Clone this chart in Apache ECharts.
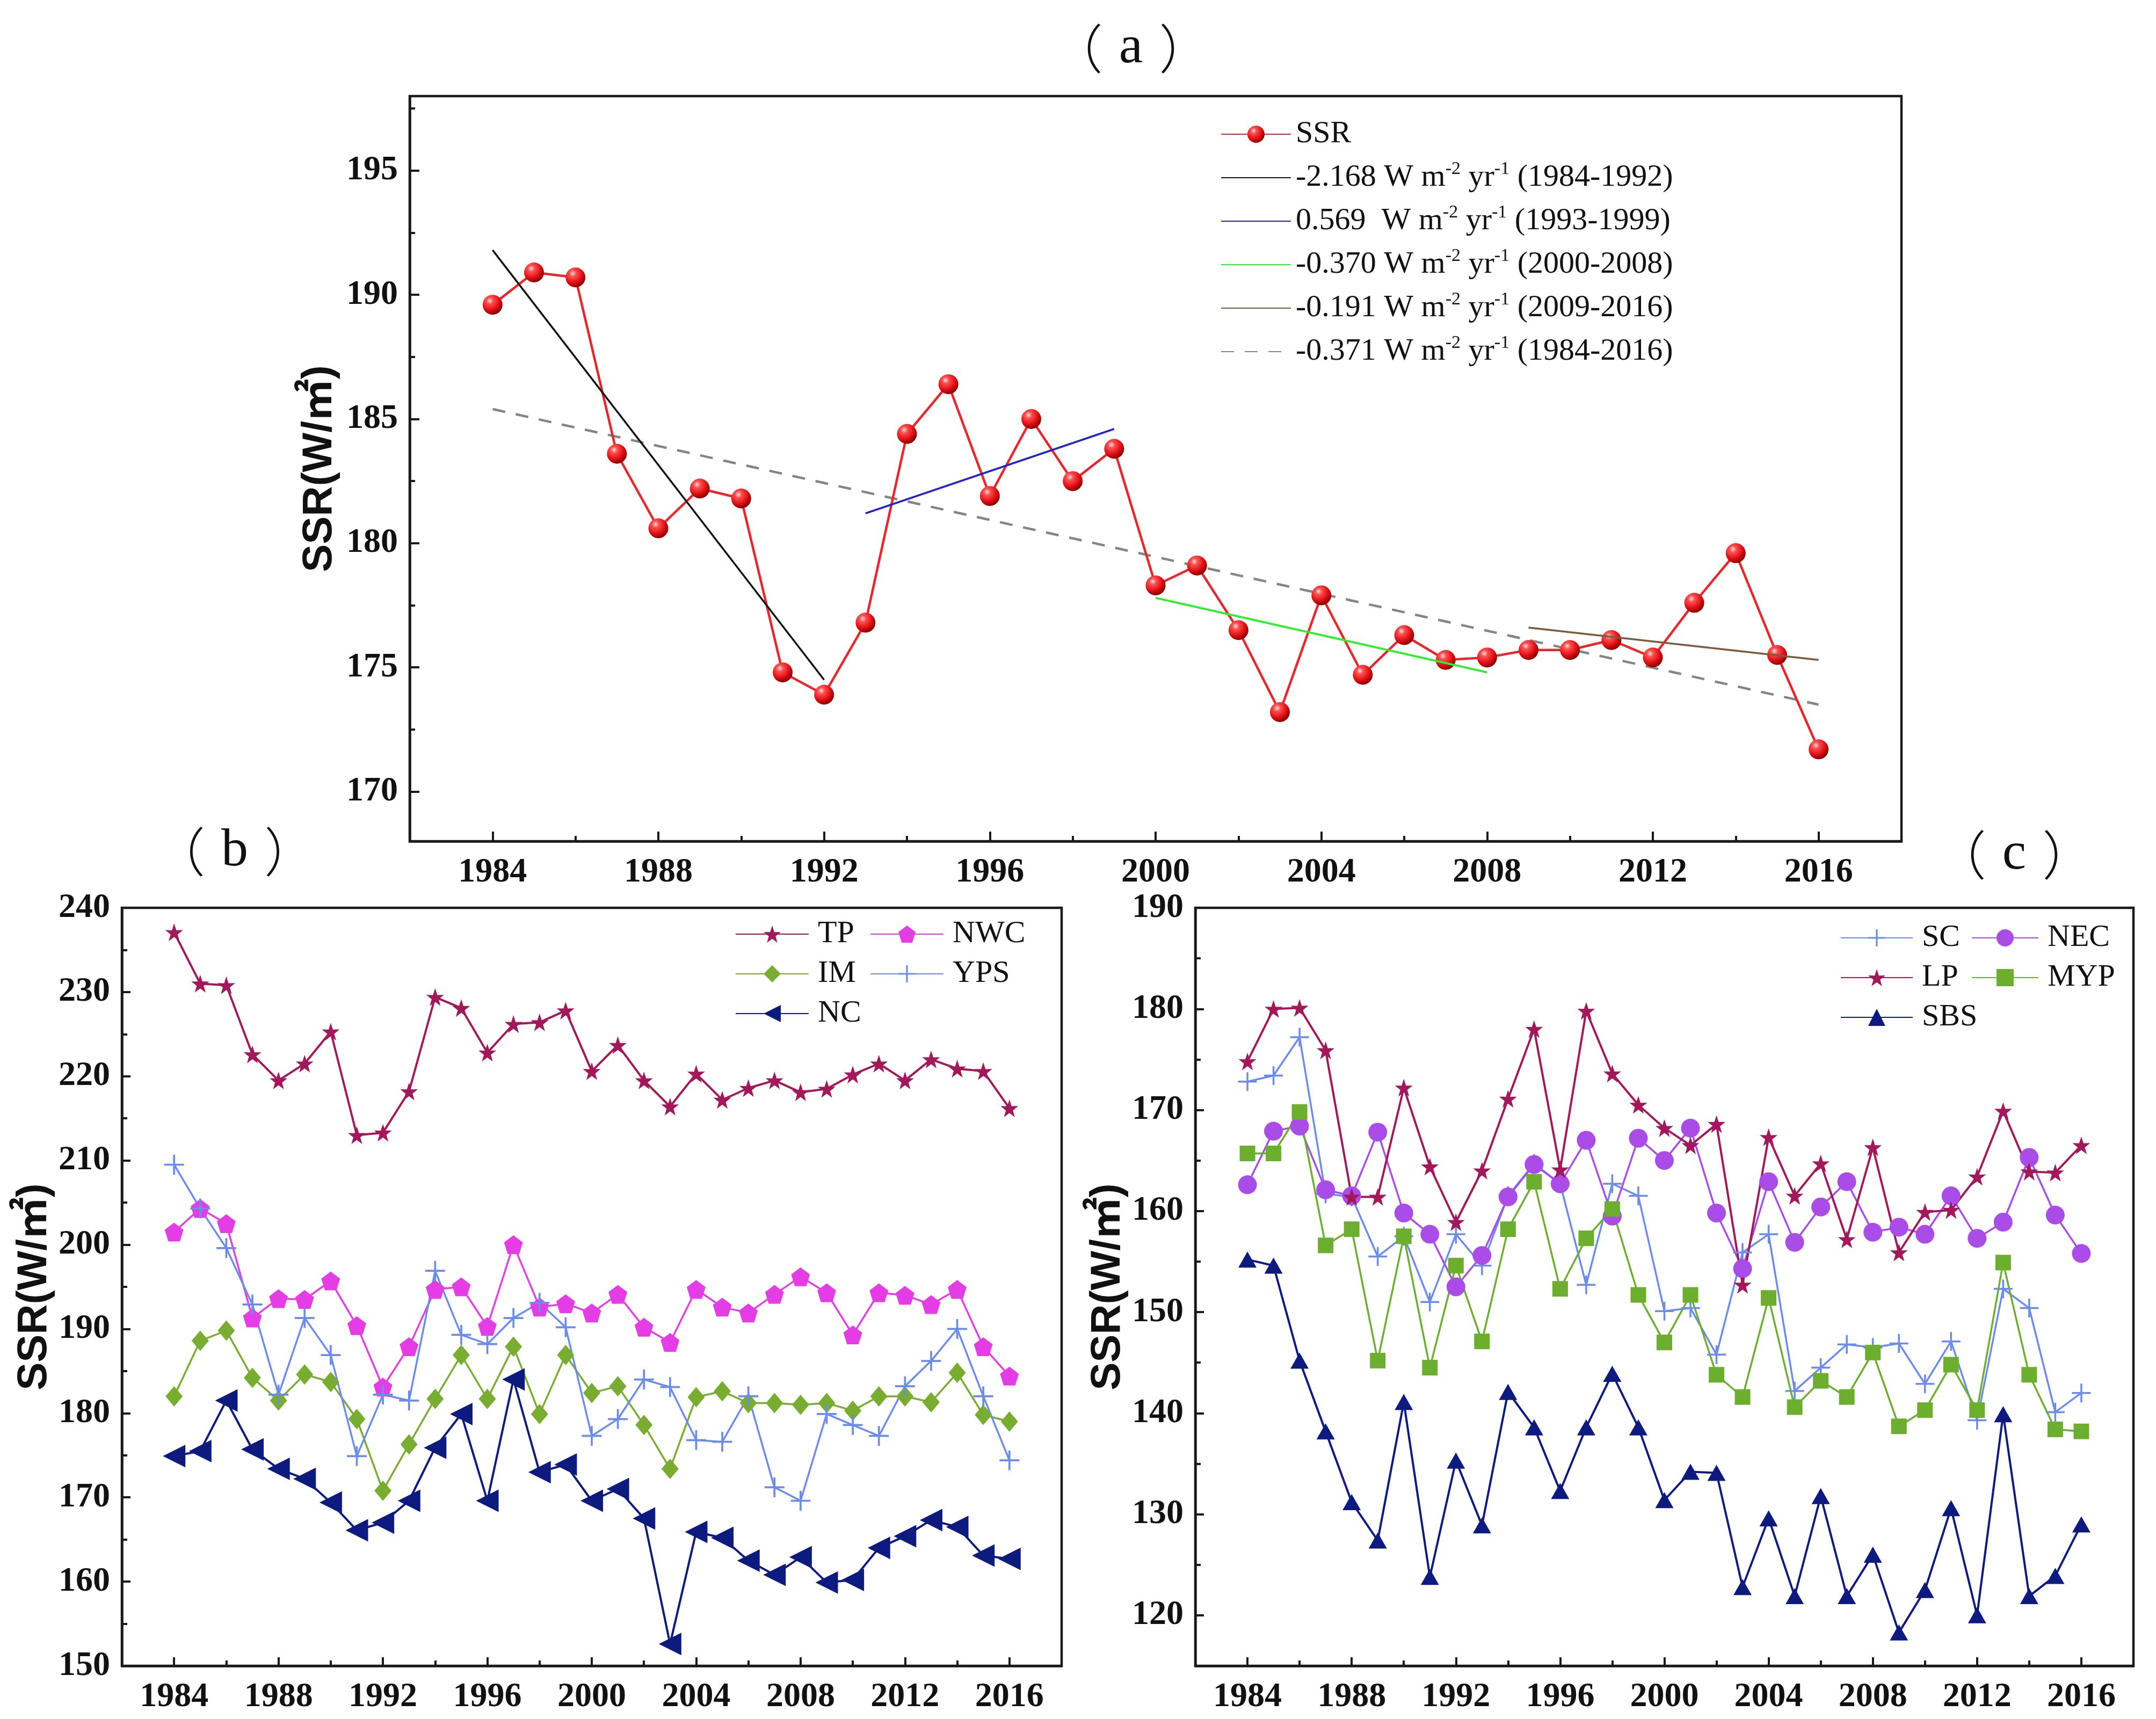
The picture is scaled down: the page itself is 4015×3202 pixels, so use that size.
<!DOCTYPE html>
<html><head><meta charset="utf-8">
<script src="https://cdn.jsdelivr.net/npm/echarts@6/dist/echarts.min.js"></script>
<style>html,body{margin:0;padding:0;background:#fff;}#chart{width:4015px;height:3202px;}</style>
</head><body><div id="chart"></div>
<script>
// ---------- DATA ----------
const years = [1984,1985,1986,1987,1988,1989,1990,1991,1992,1993,1994,1995,1996,1997,1998,1999,2000,2001,2002,2003,2004,2005,2006,2007,2008,2009,2010,2011,2012,2013,2014,2015,2016];

// panel (a)
const ssr = [189.6,190.9,190.7,183.6,180.6,182.2,181.8,174.8,173.9,176.8,184.4,186.4,181.9,185.0,182.5,183.8,178.3,179.1,176.5,173.2,177.9,174.7,176.3,175.3,175.4,175.7,175.7,176.1,175.4,177.6,179.6,175.5,171.7];
const trend8492 = [[1984,191.8],[1992,174.5]];
const trend9399 = [[1993,181.2],[1999,184.6]];
const trend0008 = [[2000,177.8],[2008,174.8]];
const trend0916 = [[2009,176.6],[2016,175.3]];
const trend8416 = [[1984,185.4],[2016,173.5]];
const trendNames = ['-2.168 W m-2 yr-1 (1984-1992)','0.569  W m-2 yr-1 (1993-1999)','-0.370 W m-2 yr-1 (2000-2008)','-0.191 W m-2 yr-1 (2009-2016)','-0.371 W m-2 yr-1 (1984-2016)'];

// panel (b)
const tp  = [237.1,231.0,230.8,222.6,219.5,221.5,225.3,213.0,213.3,218.2,229.4,228.1,222.8,226.2,226.4,227.8,220.6,223.7,219.5,216.4,220.3,217.2,218.6,219.5,218.1,218.5,220.2,221.5,219.5,222.0,220.9,220.6,216.2];
const nwc = [201.5,204.3,202.5,191.3,193.6,193.5,195.7,190.4,183.1,187.9,194.7,195.0,190.3,200.0,192.6,193.0,191.9,194.1,190.2,188.4,194.7,192.6,191.9,194.1,196.2,194.3,189.3,194.3,194.0,192.9,194.7,187.9,184.4];
const im  = [182.0,188.6,189.8,184.2,181.5,184.6,183.7,179.3,170.8,176.3,181.7,186.9,181.7,187.9,179.9,186.9,182.4,183.2,178.6,173.4,181.9,182.6,181.2,181.2,181.0,181.2,180.3,182.0,182.0,181.3,184.8,179.8,179.0];
const yps = [209.5,204.3,199.6,192.9,182.2,191.3,186.9,174.9,182.2,181.5,196.9,189.3,188.2,191.3,193.1,190.2,177.3,179.3,184.0,183.1,176.8,176.6,182.0,171.2,169.6,179.9,178.6,177.3,183.2,186.2,190.0,182.0,174.4];
const nc  = [174.9,175.5,181.5,175.7,173.4,172.2,169.4,166.1,167.0,169.6,175.9,179.9,169.6,184.0,173.0,173.9,169.6,171.0,167.5,152.6,165.9,165.2,162.5,160.8,162.9,159.9,160.2,164.0,165.4,167.3,166.5,163.1,162.7];

// panel (c)
const sc  = [172.8,173.4,177.2,161.7,161.4,155.5,157.5,151.0,157.7,154.6,161.5,164.7,162.7,152.7,162.7,161.5,150.1,150.4,145.8,155.9,157.7,142.2,144.5,146.8,146.5,146.9,142.9,147.1,139.3,152.3,150.4,140.1,142.0];
const nec = [162.6,167.9,168.4,162.1,161.5,167.8,159.8,157.7,152.5,155.6,161.4,164.6,162.7,167.0,159.5,167.2,165.0,168.2,159.8,154.3,162.9,156.9,160.4,162.9,157.9,158.4,157.7,161.5,157.3,158.9,165.3,159.6,155.8];
const lp  = [174.8,180.0,180.1,175.9,161.4,161.4,172.2,164.4,158.9,164.0,171.1,178.0,164.1,179.8,173.6,170.5,168.2,166.5,168.6,152.7,167.3,161.5,164.7,157.2,166.3,155.9,159.9,160.1,163.4,169.9,163.9,163.8,166.5];
const myp = [165.7,165.7,169.8,156.6,158.2,145.2,157.5,144.5,154.6,147.1,158.2,162.9,152.3,157.3,160.2,151.7,147.0,151.7,143.8,141.6,151.4,140.6,143.2,141.6,146.0,138.7,140.3,144.8,140.3,154.9,143.8,138.4,138.2];
const sbs = [155.2,154.6,145.2,138.2,131.2,127.4,141.1,123.8,135.3,128.9,142.1,138.6,132.3,138.6,143.9,138.6,131.4,134.2,134.1,122.8,129.6,121.9,131.8,121.9,126.0,118.3,122.5,130.6,120.0,139.9,121.9,123.9,129.0];

// ticks
const xMajor = [1984,1988,1992,1996,2000,2004,2008,2012,2016];
const xMinor = [1986,1990,1994,1998,2002,2006,2010,2014];
const aYMajor = [170,175,180,185,190,195];
const aYMinor = [172.5,177.5,182.5,187.5,192.5,197.5];
const bYMajor = [150,160,170,180,190,200,210,220,230,240];
const bYMinor = [155,165,175,185,195,205,215,225,235];
const cYMajor = [120,130,140,150,160,170,180,190];
const cYMinor = [125,135,145,155,165,175,185];

// ---------- STYLE HELPERS ----------
const SERIF = '"Liberation Serif", "Noto Sans CJK SC", serif';
const SANS = '"Liberation Sans", "Noto Sans CJK SC", sans-serif';
const CJK = '"Noto Sans CJK SC", sans-serif';
const AX = '#1a1a1a';
const STAR = 'path://M50,0 L61.8,35.1 L98.1,34.5 L69,56.9 L79.4,91.5 L50,70.5 L20.6,91.5 L31,56.9 L1.9,34.5 L38.2,35.1 Z';
const PENT = 'path://M50,2 L97,36 L79,92 L21,92 L3,36 Z';
const PLUS = 'path://M45,0 L55,0 L55,45 L100,45 L100,55 L55,55 L55,100 L45,100 L45,55 L0,55 L0,45 L45,45 Z';

const grids = [
  {left:763, top:179, width:2778, height:1388},
  {left:227, top:1691, width:1750, height:1412},
  {left:2226, top:1691, width:1747, height:1412}
].map(g => Object.assign(g, {show:true, borderColor:AX, borderWidth:4.5, backgroundColor:'#fff', outerBoundsMode:'none', containLabel:false}));

const xAxes = [], yAxes = [];
function addAxes(gi, yMin, yMax, yMaj, yMin2, majLen, minLen) {
  xAxes.push({type:'value', gridIndex:gi, min:1982, max:2018, position:'bottom',
    axisLine:{show:true, onZero:false, lineStyle:{color:AX, width:4.5}},
    axisTick:{show:true, inside:true, length:majLen, customValues:xMajor, lineStyle:{color:AX, width:4}},
    axisLabel:{show:true, customValues:xMajor, margin:26, formatter:v=>String(v), fontFamily:SERIF, fontWeight:'bold', fontSize:64, color:'#111'},
    splitLine:{show:false}});
  xAxes.push({type:'value', gridIndex:gi, min:1982, max:2018, position:'bottom',
    axisLine:{show:false}, axisLabel:{show:false}, splitLine:{show:false},
    axisTick:{show:true, inside:true, length:minLen, customValues:xMinor, lineStyle:{color:AX, width:4}}});
  yAxes.push({type:'value', gridIndex:gi, min:yMin, max:yMax, position:'left',
    name:'SSR(W/㎡)', nameLocation:'middle', nameGap:124,
    nameTextStyle:{fontFamily:SANS, fontWeight:'bold', fontSize:78, color:'#111'},
    axisLine:{show:true, onZero:false, lineStyle:{color:AX, width:4.5}},
    axisTick:{show:true, inside:true, length:majLen, customValues:yMaj, lineStyle:{color:AX, width:4}},
    axisLabel:{show:true, customValues:yMaj, margin:22, formatter:v=>String(v), fontFamily:SERIF, fontWeight:'bold', fontSize:64, color:'#111'},
    splitLine:{show:false}});
  yAxes.push({type:'value', gridIndex:gi, min:yMin, max:yMax, position:'left',
    axisLine:{show:false}, axisLabel:{show:false}, splitLine:{show:false},
    axisTick:{show:true, inside:true, length:minLen, customValues:yMin2, lineStyle:{color:AX, width:4}}});
}
addAxes(0, 168, 198, aYMajor, aYMinor, 18, 10);
addAxes(1, 150, 240, bYMajor, bYMinor, 16, 10);
addAxes(2, 115, 190, cYMajor, cYMinor, 16, 10);

function pairs(ys){ return years.map((y,i)=>[y, ys[i]]); }
function ser(name, gi, data, o) {
  return Object.assign({type:'line', name, xAxisIndex:gi*2, yAxisIndex:gi*2, data, animation:false}, o);
}
function mk(color, symbol, size, lw, extra) {
  return Object.assign({symbol, symbolSize:size, showSymbol:true, lineStyle:{color, width:lw}, itemStyle:{color, borderWidth:0}}, extra||{});
}

const sphere = {type:'radial', x:0.36, y:0.3, r:0.75, colorStops:[
  {offset:0, color:'#ffe0e0'},{offset:0.22, color:'#ff5050'},{offset:0.65, color:'#dd0c10'},{offset:1, color:'#7a0000'}]};

const series = [
  ser('SSR', 0, pairs(ssr), {symbol:'circle', symbolSize:37, lineStyle:{color:'#e8262b', width:4.5}, itemStyle:{color:sphere}, z:3}),
  ser(trendNames[0], 0, trend8492, {symbol:'none', lineStyle:{color:'#111111', width:3.5}, itemStyle:{color:'#111111'}, z:4}),
  ser(trendNames[1], 0, trend9399, {symbol:'none', lineStyle:{color:'#2222cc', width:3.5}, itemStyle:{color:'#2222cc'}, z:4}),
  ser(trendNames[2], 0, trend0008, {symbol:'none', lineStyle:{color:'#2df02d', width:4}, itemStyle:{color:'#2df02d'}, z:4}),
  ser(trendNames[3], 0, trend0916, {symbol:'none', lineStyle:{color:'#7d5a3e', width:3.5}, itemStyle:{color:'#7d5a3e'}, z:4}),
  ser(trendNames[4], 0, trend8416, {symbol:'none', lineStyle:{color:'#858585', width:4.5, type:[24,20]}, itemStyle:{color:'#858585'}, z:2}),

  ser('TP', 1, pairs(tp), mk('#a3185a', STAR, 33, 4)),
  ser('NWC', 1, pairs(nwc), mk('#e43de6', PENT, 35, 3.5)),
  ser('IM', 1, pairs(im), mk('#79ad2f', 'diamond', [32,38], 3.5)),
  ser('YPS', 1, pairs(yps), mk('#6c8ceb', PLUS, 37, 3.5)),
  ser('NC', 1, pairs(nc), mk('#0d1b7e', 'triangle', 42, 4, {symbolRotate:90})),

  ser('SC', 2, pairs(sc), mk('#6c8ceb', PLUS, 35, 3.5)),
  ser('NEC', 2, pairs(nec), mk('#a94ce8', 'circle', 35, 3.5)),
  ser('LP', 2, pairs(lp), mk('#a3185a', STAR, 33, 4)),
  ser('MYP', 2, pairs(myp), mk('#6cae2d', 'rect', 29, 3.5)),
  ser('SBS', 2, pairs(sbs), mk('#0d1b80', 'triangle', [34,30], 4))
];

const legTxt = {fontFamily:SERIF, fontSize:58, color:'#111', lineHeight:64, padding:[0,0,0,12]};
function colLegend(left, top, names, w) {
  return {orient:'vertical', left, top, data:names, itemWidth:w, itemHeight:40, itemGap:10,
    textStyle:legTxt, selectedMode:false, padding:0};
}
const legends = [
  {orient:'vertical', left:2273, top:217, padding:0, selectedMode:false,
    data:[{name:'SSR'}].concat(trendNames.map(n=>({name:n, itemStyle:{opacity:0}}))),
    itemWidth:130, itemHeight:40, itemGap:15,
    formatter: n => n.replace('m-2','m{sup|-2}').replace('yr-1','yr{sup|-1}'),
    textStyle:{fontFamily:SERIF, fontSize:58, color:'#111', lineHeight:66, padding:[0,0,0,4],
      rich:{sup:{fontFamily:SERIF, fontSize:34, lineHeight:34, verticalAlign:'top', color:'#111'}}}},
  colLegend(1369, 1708, ['TP','IM','NC'], 136),
  colLegend(1620, 1708, ['NWC','YPS'], 136),
  colLegend(3427, 1715, ['SC','LP','SBS'], 134),
  colLegend(3671, 1715, ['NEC','MYP'], 124)
];

const titleRich = {
  p:{fontFamily:CJK, fontSize:98, fill:'#111', fontWeight:300},
  l:{fontFamily:SERIF, fontSize:100, fill:'#111', padding:[0,30,0,30]}
};
function panelTitle(letter, x, y) {
  return {type:'text', x, y, style:{text:'{p|（}{l|' + letter + '}{p|）}', rich:titleRich, align:'center', verticalAlign:'middle'}};
}
const graphics = [panelTitle('a', 2106, 90), panelTitle('b', 437, 1586), panelTitle('c', 3751, 1592)];

const chart = echarts.init(document.getElementById('chart'), null, {renderer:'canvas', width:4015, height:3202});
chart.setOption({
  backgroundColor:'#ffffff',
  animation:false,
  textStyle:{fontFamily:SERIF},
  grid:grids, xAxis:xAxes, yAxis:yAxes,
  legend:legends, series, graphic:graphics
});
</script></body></html>
